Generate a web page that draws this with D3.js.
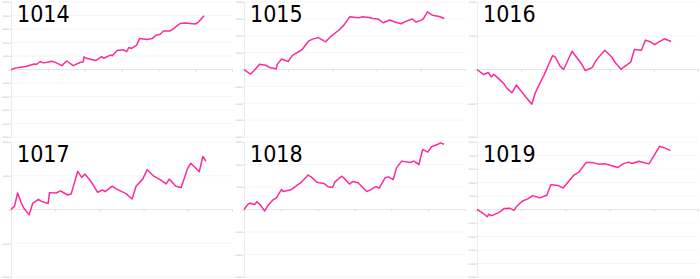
<!DOCTYPE html>
<html lang="en">
  <head>
    <meta charset="utf-8" />
    <title>Small multiples</title>
    <script src="https://d3js.org/d3.v7.min.js"></script>
    <style type="text/css">
      body {
        margin: 0;
        background: #ffffff;
      }
      svg {
        display: block;
      }
      .title {
        font-family: "DejaVu Sans Condensed", "DejaVu Sans", sans-serif;
        font-stretch: condensed;
        font-size: 23px;
        fill: #000000;
      }
      .axis text {
        font-family: "DejaVu Sans Condensed", "DejaVu Sans", sans-serif;
        font-stretch: condensed;
        font-size: 2.4px;
        fill: #b0b0b0;
      }
    </style>
  </head>
  <body>
    <svg id="chart" width="700" height="279"></svg>

    <script type="text/javascript">
      // panel names and their value ranges
      const panelNames = ["1014", "1015", "1016", "1017", "1018", "1019"];
      const yLimits = [50000, 40000, 20000, 20000, 30000, 50000];
      const xLimits = [60, 50, 50, 50, 60, 50];

      // series: [x, value]
      const s1014 = [[0,0],[1.4,1200],[2.7,1700],[4,2200],[5.4,3400],[6.3,4100],[7,3900],[7.9,5900],[8.8,4900],
        [9.9,5400],[11,6100],[12.2,5100],[13.8,2900],[15.1,6300],[16.9,2900],[18.9,5400],[19.6,5600],[19.8,9300],
        [20.5,8300],[23,6600],[24.6,9500],[25.2,8300],[27,10700],[27.5,10200],[28.8,14100],[30.5,14600],[31.4,13200],
        [32,16300],[32.7,15600],[34.1,18000],[34.9,22900],[36.9,22200],[38.3,22900],[39.5,25600],[40.5,26100],
        [41.4,28500],[43.1,28500],[43.7,29300],[45.9,34100],[47.3,34400],[50,33700],[50.9,35100],[52.4,39800]];
      const s1015 = [[0,0],[0.8,-1600],[1.5,-2700],[2.5,0],[3.5,3100],[4.9,2500],[6,1000],[7.3,400],[7.5,2900],
        [8.5,6200],[9.3,5300],[10,4700],[10.9,8200],[12.1,10200],[13.1,11700],[14.7,17000],[15.5,18000],[16.8,18900],
        [17.7,17600],[18.5,16400],[19.6,19500],[21.5,23400],[22.6,26300],[23.9,31200],[25.4,30800],[25.9,30600],
        [26.8,31200],[28.3,30800],[29.1,30200],[30.4,29900],[31.5,27700],[33,29300],[34,28300],[35.5,27100],
        [36.6,28500],[38.1,29900],[38.9,28100],[40,29100],[40.6,30100],[41.5,34200],[42.6,32200],[44.2,31400],
        [45.3,30200]];
      const s1016 = [[0,0],[1.5,-1500],[2.6,-900],[3.2,-2200],[3.8,-1400],[4.9,-2700],[6,-4100],[6.8,-5600],
        [7.9,-6900],[8.9,-4600],[9.8,-6100],[10.9,-7900],[12.4,-10300],[13.2,-6900],[14.1,-4400],[15.1,-1800],
        [16.2,1500],[17.1,4100],[17.7,3700],[18.8,1000],[19.6,0],[21.5,5400],[22.6,3500],[23.6,1800],[24.5,-300],
        [26,500],[27.1,3000],[28.9,5700],[30.5,3700],[31.3,2000],[32.6,100],[33.5,1000],[34.8,2200],[35.6,5900],
        [37.2,5700],[38.1,8700],[39.2,8200],[40.2,7400],[41.1,8100],[42.4,9100],[43.9,8300]];
      const s1017 = [[0,0],[0.8,1000],[1.5,4900],[2.3,2000],[3,200],[4.1,-1600],[4.9,1800],[6.2,3000],[6.9,2400],
        [8.4,1800],[8.7,5000],[10.2,4900],[11.2,5500],[12.8,4300],[13.6,4600],[15.1,11300],[16,9500],[16.7,10500],
        [18.1,8300],[19.6,5100],[20.7,5800],[21.3,5300],[22.9,6900],[23.8,6100],[26,4700],[27.4,3100],[28.3,6900],
        [29.8,9000],[30.8,11800],[32.4,9800],[33.8,8800],[35.1,7600],[35.8,9000],[37.3,6900],[38.5,6500],
        [40,12300],[40.7,13700],[42.6,11200],[43.4,15700],[44.1,14300]];
      const s1018 = [[0,0],[1.1,2400],[1.7,2800],[2.9,2200],[3.5,3400],[4.4,2200],[5.6,-700],[6.5,1800],[7.9,4300],
        [8.8,5200],[10.2,8900],[10.6,8000],[11.3,8200],[12.9,8900],[15.6,12200],[17.4,15300],[18.3,14400],
        [19.7,12200],[20.4,11900],[21.7,11600],[22.8,10100],[24,9800],[24.7,12300],[26.5,14800],[27.4,13600],
        [28.6,11300],[29.5,12400],[31,11900],[33.3,8000],[34.2,8600],[35.8,10200],[36.7,9500],[38.3,14100],
        [39.2,14500],[40.5,13300],[41.4,18500],[42.8,21500],[45.1,20900],[46.1,21500],[47.5,20000],[48.5,26700],
        [49.9,25500],[50.9,27900],[52.5,28900],[53.4,29600],[54.3,29000]];
      const s1019 = [[0,0],[1,-2000],[1.7,-3700],[2.3,-5400],[2.7,-3400],[3.1,-4400],[3.6,-4200],[4.8,-2500],
        [5.4,-1200],[6.1,700],[7.4,1000],[8.4,-700],[8.9,2000],[10.2,6100],[11.6,8100],[12.6,10300],[14.2,8600],
        [15.8,10500],[16.7,18400],[18.4,17700],[19.5,15900],[20.7,20800],[22,25700],[23,27500],[24.7,34800],
        [26,34800],[27.5,33600],[29,33800],[30.5,32400],[31.9,31100],[33,33800],[34.3,35100],[35.1,34100],
        [36.6,35800],[38.9,33800],[39.7,38000],[41.3,46800],[42.7,45300],[43.8,43600]];
      const allSeries = [s1014, s1015, s1016, s1017, s1018, s1019];

      // layout
      const svg = d3.select("#chart");
      const colW = 233;
      const rowTop = [2, 142];
      const rowBottom = [137, 277];
      const padLeft = 11;
      const lineColor = "#ff2a9a";

      panelNames.forEach((name, i) => {
        const col = i % 3;
        const row = Math.floor(i / 3);
        const x0 = col * colW + padLeft;
        const x1 = col * colW + colW - 1;

        const x = d3.scaleLinear()
          .domain([0, xLimits[i]])
          .range([x0, x1]);
        const y = d3.scaleLinear()
          .domain([-yLimits[i], yLimits[i]])
          .range([rowBottom[row], rowTop[row]]);
        const yTicks = d3.range(-yLimits[i], yLimits[i] + 1, 10000);

        const g = svg.append("g");

        // faint grid
        g.selectAll("line.grid")
          .data(yTicks)
          .enter()
          .append("line")
          .attr("class", "grid")
          .attr("x1", x0)
          .attr("x2", x1)
          .attr("y1", d => y(d))
          .attr("y2", d => y(d))
          .attr("stroke", d => d === 0 ? "#e6e6e6" : "#f5f5f5")
          .attr("stroke-width", 1);

        // y axis
        const yAxis = g.append("g")
          .attr("class", "axis")
          .attr("transform", `translate(${x0},0)`)
          .call(d3.axisLeft(y).tickValues(yTicks).tickSize(1).tickPadding(0.5).tickFormat(d3.format("d")));
        yAxis.select(".domain").attr("stroke", "#ececec");
        yAxis.selectAll(".tick line").attr("stroke", "#d8d8d8");

        // x ticks on the zero line
        const xAxis = g.append("g")
          .attr("class", "axis")
          .attr("transform", `translate(0,${y(0)})`)
          .call(d3.axisBottom(x).ticks(xLimits[i] / 10).tickSize(2).tickFormat(""));
        xAxis.select(".domain").remove();
        xAxis.selectAll(".tick line").attr("stroke", "#d8d8d8");

        // the series
        const line = d3.line()
          .x(d => x(d[0]))
          .y(d => y(d[1]));
        g.append("path")
          .datum(allSeries[i])
          .attr("d", line)
          .attr("fill", "none")
          .attr("stroke", lineColor)
          .attr("stroke-width", 1.5)
          .attr("stroke-linejoin", "round");

        // big title
        g.append("text")
          .attr("class", "title")
          .attr("x", x0 + 6)
          .attr("y", rowTop[row] + 20)
          .text(name);
      });
    </script>
  </body>
</html>
